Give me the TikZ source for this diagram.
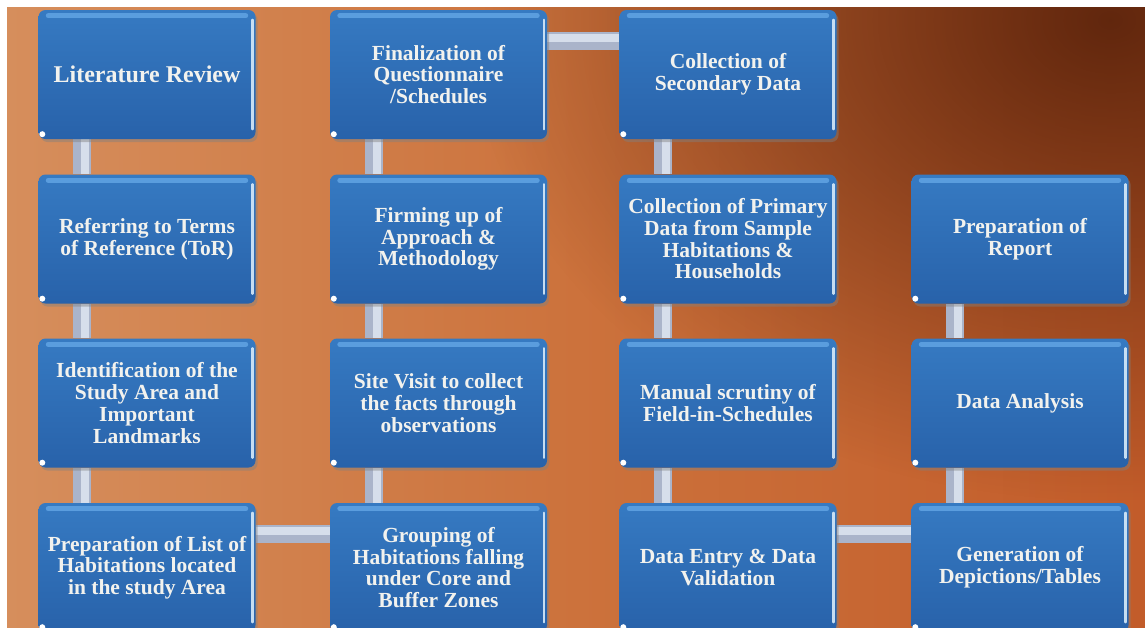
\documentclass[tikz,border=0pt]{standalone}
\usepackage{fontspec}
\setmainfont{Liberation Serif}
\usetikzlibrary{shadows,fadings}
\pgfdeclarelayer{bglayer}
\pgfsetlayers{bglayer,main}
\definecolor{bgL}{RGB}{214,142,92}
\definecolor{bgM}{RGB}{204,114,60}
\definecolor{bgR}{RGB}{194,92,42}
\definecolor{bgDark}{RGB}{92,36,12}
\definecolor{boxTop}{RGB}{54,122,194}
\definecolor{boxBot}{RGB}{40,98,170}
\definecolor{barC}{RGB}{170,180,202}
\definecolor{barHi}{RGB}{214,222,235}
\definecolor{hiBlue}{RGB}{95,162,226}
\definecolor{rHi}{RGB}{215,235,250}
\definecolor{txt}{RGB}{242,242,238}
\tikzfading[name=myfade, inner color=transparent!5, outer color=transparent!100]
\tikzset{
  stepbox/.style={rectangle, rounded corners=7pt, minimum width=217pt,
    minimum height=129pt, inner sep=2pt, align=center, text=txt,
    font=\bfseries\fontsize{21.5}{21.7}\selectfont,
    top color=boxTop, bottom color=boxBot,
    drop shadow={opacity=0.45, shadow xshift=2pt, shadow yshift=-3pt}},
  vbar/.style={line width=18pt, draw=barC},
  barhi/.style={line width=8pt, draw=barHi},
  tophi/.style={hiBlue, line width=5pt, line cap=round, opacity=.9},
  righthi/.style={rHi, line width=2.5pt, line cap=round, opacity=.9},
}
\newcommand\mkbox[4]{%
  \node[stepbox] (#1) at (#2,#3) {#4};
  \draw[tophi] ([xshift=10pt,yshift=-6pt]#1.north west) -- ([xshift=-10pt,yshift=-6pt]#1.north east);
  \draw[righthi] ([xshift=-3pt,yshift=-10pt]#1.north east) -- ([xshift=-3pt,yshift=10pt]#1.south east);
  \fill[white] ([xshift=4pt,yshift=5pt]#1.south west) circle (3pt);
}
\newcommand\vcon[2]{%
  \draw[vbar] ([xshift=44pt]#1.south west) -- ([xshift=44pt]#2.north west);
  \draw[barhi] ([xshift=47pt]#1.south west) -- ([xshift=47pt]#2.north west);
}
\newcommand\hcon[2]{%
  \draw[vbar] ([yshift=-31pt]#1.north east) -- ([yshift=-31pt]#2.north west);
  \draw[barhi] ([yshift=-28pt]#1.north east) -- ([yshift=-28pt]#2.north west);
}
\begin{document}
\begin{tikzpicture}[x=1pt,y=-1pt]
\useasboundingbox (0,0) rectangle (1145,627);
\begin{pgfonlayer}{bglayer}
  \fill[white] (0,0) rectangle (1145,627);
  \shade[left color=bgL, right color=bgR, middle color=bgM] (7,7) rectangle (1145,627);
  \begin{scope}
    \clip (7,7) rectangle (1145,627);
    \fill[bgDark, path fading=myfade] (1110,20) ellipse (640pt and 480pt);
  \end{scope}
\end{pgfonlayer}

% column 1
\mkbox{lr}{147}{74.5}{\fontsize{24}{24}\selectfont Literature Review}
\mkbox{tor}{147}{239}{Referring to Terms\\of Reference (ToR)}
\mkbox{ident}{147}{403}{Identification of the\\Study Area and\\Important\\Landmarks}
\mkbox{plist}{147}{567.5}{Preparation of List of\\Habitations located\\in the study Area}
% column 2
\mkbox{final}{438.5}{74.5}{Finalization of\\Questionnaire\\/Schedules}
\mkbox{firm}{438.5}{239}{Firming up of\\Approach \&\\Methodology}
\mkbox{site}{438.5}{403}{Site Visit to collect\\the facts through\\observations}
\mkbox{group}{438.5}{567.5}{Grouping of\\Habitations falling\\under Core and\\Buffer Zones}
% column 3
\mkbox{sec}{728}{74.5}{Collection of\\Secondary Data}
\mkbox{prim}{728}{239}{Collection of Primary\\Data from Sample\\Habitations \&\\Households}
\mkbox{manual}{728}{403}{Manual scrutiny of\\Field-in-Schedules}
\mkbox{entry}{728}{567.5}{Data Entry \& Data\\Validation}
% column 4
\mkbox{report}{1020}{239}{Preparation of\\Report}
\mkbox{analysis}{1020}{403}{Data Analysis}
\mkbox{gen}{1020}{567.5}{Generation of\\Depictions/Tables}

\begin{pgfonlayer}{bglayer}
  \vcon{lr}{tor}
  \vcon{tor}{ident}
  \vcon{ident}{plist}
  \hcon{plist}{group}
  \vcon{site}{group}
  \vcon{firm}{site}
  \vcon{final}{firm}
  \hcon{final}{sec}
  \vcon{sec}{prim}
  \vcon{prim}{manual}
  \vcon{manual}{entry}
  \hcon{entry}{gen}
  \vcon{analysis}{gen}
  \vcon{report}{analysis}
\end{pgfonlayer}
\end{tikzpicture}
\end{document}
